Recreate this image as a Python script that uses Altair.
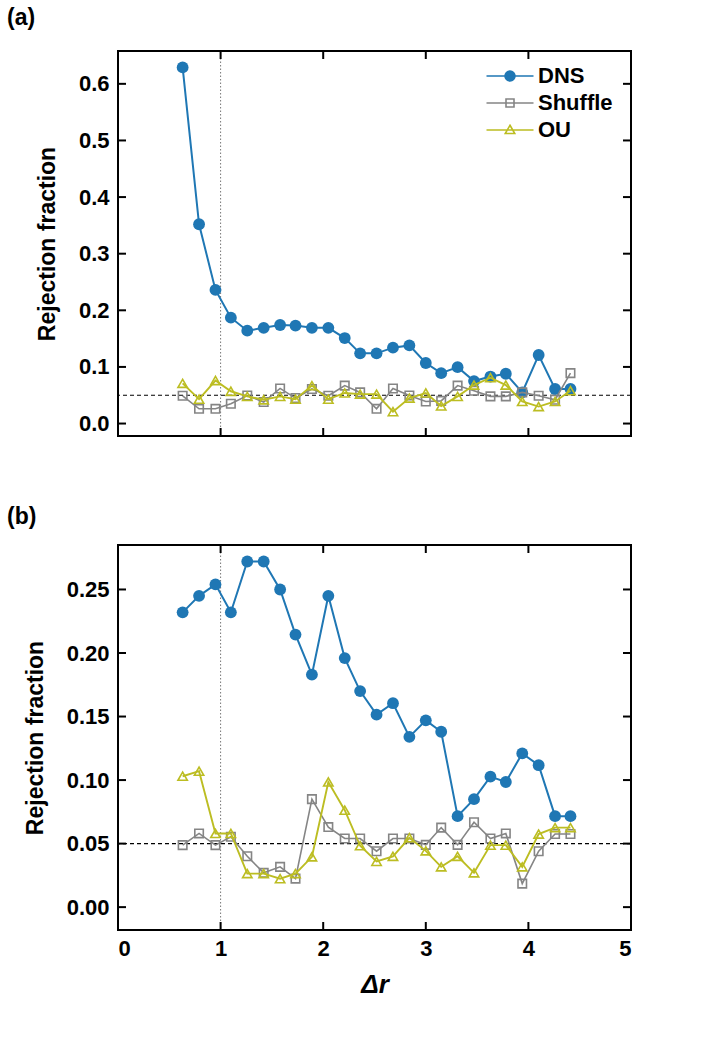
import altair as alt
import pandas as pd

# ---------------- data ----------------
dr = [0.63, 0.79, 0.95, 1.10, 1.26, 1.42, 1.58, 1.73, 1.89, 2.05, 2.21, 2.36, 2.52,
      2.68, 2.84, 3.00, 3.15, 3.31, 3.47, 3.63, 3.78, 3.94, 4.10, 4.26, 4.41]

dns_a = [0.629, 0.352, 0.236, 0.187, 0.164, 0.169, 0.174, 0.173, 0.169, 0.169, 0.151, 0.124, 0.124,
         0.134, 0.138, 0.107, 0.089, 0.0996, 0.075, 0.083, 0.088, 0.055, 0.121, 0.061, 0.061]
shuffle_a = [0.049, 0.026, 0.026, 0.035, 0.0495, 0.038, 0.062, 0.045, 0.061, 0.049, 0.067, 0.055, 0.026,
             0.062, 0.0495, 0.039, 0.040, 0.067, 0.058, 0.048, 0.048, 0.055, 0.049, 0.042, 0.089]
ou_a = [0.071, 0.043, 0.076, 0.057, 0.048, 0.042, 0.048, 0.043, 0.067, 0.043, 0.054, 0.052, 0.052,
        0.021, 0.045, 0.054, 0.031, 0.048, 0.068, 0.081, 0.068, 0.039, 0.030, 0.039, 0.058]

dns_b = [0.232, 0.245, 0.254, 0.232, 0.272, 0.272, 0.250, 0.2145, 0.183, 0.245, 0.196, 0.170, 0.1515,
         0.1605, 0.134, 0.147, 0.138, 0.0716, 0.085, 0.1027, 0.0985, 0.121, 0.1117, 0.0716, 0.0716]
shuffle_b = [0.0488, 0.058, 0.0488, 0.0554, 0.040, 0.027, 0.0317, 0.0224, 0.085, 0.063, 0.054, 0.054, 0.044,
             0.054, 0.054, 0.049, 0.0626, 0.049, 0.0668, 0.054, 0.058, 0.0185, 0.044, 0.0575, 0.0575]
ou_b = [0.103, 0.107, 0.058, 0.058, 0.0264, 0.0264, 0.0224, 0.0264, 0.0396, 0.0985, 0.0763, 0.0483, 0.036,
        0.040, 0.0546, 0.0443, 0.0317, 0.040, 0.027, 0.0488, 0.0488, 0.0317, 0.0575, 0.0626, 0.0626]

series_names = ["DNS", "Shuffle", "OU"]
yticks_a = [0.0, 0.1, 0.2, 0.3, 0.4, 0.5, 0.6]
yticks_b = [0.0, 0.05, 0.10, 0.15, 0.20, 0.25]
xticks = [0, 1, 2, 3, 4, 5]
ref_level = [0.05]
ref_dr = [1.0]

# ---------------- style ----------------
series_colors = ["#1f77b4", "#858585", "#bcbd22"]
series_shapes = ["circle", "square", "triangle-up"]
series_filled = [True, False, False]
series_sizes = [140, 72, 88]
series_lw = [2.0, 1.6, 1.9]
legend_paths = [
    "M-4.7,0H4.7M1,0A1,1,0,1,1,-1,0A1,1,0,1,1,1,0Z",
    "M-4.7,0H4.7M-0.8,-0.8H0.8V0.8H-0.8Z",
    "M-4.7,0H4.7M0,-0.95L0.95,0.7H-0.95Z",
]
legend_fills = ["#1f77b4", "transparent", "transparent"]

FONT = "Liberation Sans"
W, H = 513, 385
TICK = 8


def long_df(vals):
    rows = []
    for name, v in zip(series_names, vals):
        for x, y in zip(dr, v):
            rows.append({"dr": x, "value": y, "series": name})
    return pd.DataFrame(rows)


def panel(vals, ydom, yticks, yfmt, show_x, with_legend, label, title_offset):
    df = long_df(vals)
    xsc = alt.Scale(domain=[0, 5], nice=False, zero=False)
    ysc = alt.Scale(domain=ydom, nice=False, zero=False)
    if show_x:
        xax = alt.Axis(values=xticks, format="d", ticks=False, domain=False, grid=False,
                       labelPadding=8, title="Δr", titleFontStyle="italic",
                       titleFontSize=26, titlePadding=12)
    else:
        xax = None
    yax = alt.Axis(values=yticks, format=yfmt, ticks=False, domain=False, grid=False,
                   labelPadding=9, title="Rejection fraction", titlePadding=19)
    xenc = alt.X("dr:Q", scale=xsc, axis=xax)
    yenc = alt.Y("value:Q", scale=ysc, axis=yax)

    layers = []
    layers.append(alt.Chart(pd.DataFrame({"value": ref_level})).mark_rule(
        color="#000000", strokeWidth=1.2, strokeDash=[4, 3]).encode(y=yenc))
    layers.append(alt.Chart(pd.DataFrame({"dr": ref_dr})).mark_rule(
        color="#777777", strokeWidth=1, strokeDash=[1.5, 2]).encode(x=xenc))

    for name, col, shp, fil, sz, lw in zip(series_names, series_colors, series_shapes,
                                           series_filled, series_sizes, series_lw):
        base = alt.Chart(df).transform_filter(alt.datum.series == name)
        layers.append(base.mark_line(color=col, strokeWidth=lw).encode(x=xenc, y=yenc))
        layers.append(base.mark_point(color=col, shape=shp, filled=fil, size=sz,
                                      strokeWidth=1.6, opacity=1).encode(x=xenc, y=yenc))

    if with_legend:
        leg = alt.Legend(title=None, orient="none", legendX=381, legendY=14, padding=0,
                         labelFont=FONT, labelFontSize=22, labelFontWeight="bold",
                         labelColor="#000000", symbolSize=100, symbolStrokeWidth=1.6,
                         symbolOpacity=1, labelOffset=17, rowPadding=5)
        layers.append(alt.Chart(df).transform_filter("false").mark_point(filled=False, opacity=1).encode(
            x=xenc, y=yenc,
            color=alt.Color("series:N", scale=alt.Scale(domain=series_names, range=series_colors), legend=leg),
            shape=alt.Shape("series:N", scale=alt.Scale(domain=series_names, range=legend_paths), legend=leg),
            fill=alt.Fill("series:N", scale=alt.Scale(domain=series_names, range=legend_fills), legend=leg),
        ))

    # inward tick marks on all four sides
    ydf = pd.DataFrame({"value": yticks})
    xdf = pd.DataFrame({"dr": xticks})
    tk = dict(color="#000000", strokeWidth=2)
    layers.append(alt.Chart(ydf).mark_rule(**tk).encode(y=yenc, x=alt.value(0), x2=alt.value(TICK)))
    layers.append(alt.Chart(ydf).mark_rule(**tk).encode(y=yenc, x=alt.value(W - TICK), x2=alt.value(W)))
    layers.append(alt.Chart(xdf).mark_rule(**tk).encode(x=xenc, y=alt.value(H - TICK), y2=alt.value(H)))
    layers.append(alt.Chart(xdf).mark_rule(**tk).encode(x=xenc, y=alt.value(0), y2=alt.value(TICK)))

    return alt.layer(*layers).properties(
        width=W, height=H,
        title=alt.TitleParams(text=label, anchor="start", frame="group", dx=-111,
                              fontSize=23, fontWeight="bold", font=FONT,
                              offset=title_offset, color="#000000"),
    )


top = panel([dns_a, shuffle_a, ou_a], [-0.022, 0.658], yticks_a, ".1f", False, True, "(a)", 20)
bottom = panel([dns_b, shuffle_b, ou_b], [-0.018, 0.285], yticks_b, ".2f", True, False, "(b)", 15)

chart = alt.vconcat(top, bottom, spacing=67).properties(
    padding={"left": 6, "top": 6, "right": 10, "bottom": 10},
    background="#ffffff",
).configure_view(
    stroke="#000000", strokeWidth=2
).configure_axis(
    labelFont=FONT, labelFontSize=22, labelFontWeight="bold", labelColor="#000000",
    titleFont=FONT, titleFontSize=23, titleFontWeight="bold", titleColor="#000000",
)

chart.save("out.html", embed_options={"renderer": "svg", "actions": False})
